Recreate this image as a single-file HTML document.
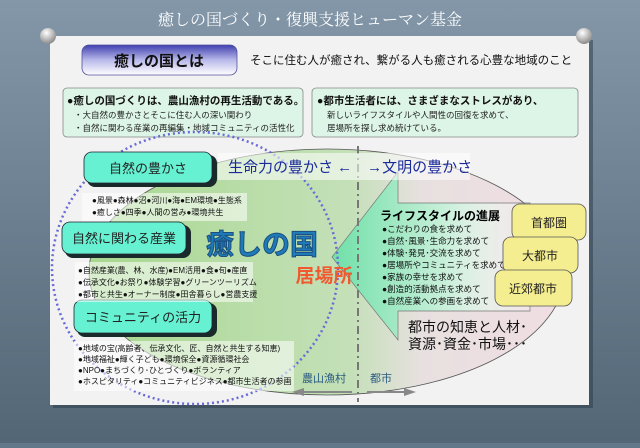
<!DOCTYPE html>
<html><head><meta charset="utf-8"><style>
body{margin:0;width:640px;height:443px;overflow:hidden;background:#62778a;font-family:"Liberation Sans","Noto Sans CJK JP",sans-serif;}
.t{font-family:"Liberation Sans","Noto Sans CJK JP",sans-serif;}
.s{font-family:"Liberation Serif","Noto Serif CJK SC",serif;}
</style></head><body>
<svg width="640" height="443" viewBox="0 0 640 443" xmlns="http://www.w3.org/2000/svg">
<defs>
<linearGradient id="bg" x1="0" y1="0" x2="0" y2="1"><stop offset="0" stop-color="#8397a9"/><stop offset="1" stop-color="#526676"/></linearGradient>
<linearGradient id="hdr" x1="0" y1="0" x2="0" y2="1"><stop offset="0" stop-color="#4040b0"/><stop offset="0.5" stop-color="#b8b8ea"/><stop offset="1" stop-color="#ffffff"/></linearGradient>
<linearGradient id="ell" x1="0" y1="0" x2="1" y2="0"><stop offset="0" stop-color="#a8d890"/><stop offset="0.55" stop-color="#c4e0b8"/><stop offset="0.7" stop-color="#e8e0e0"/><stop offset="1" stop-color="#f0dde2"/></linearGradient>
<linearGradient id="arr" x1="0" y1="0" x2="1" y2="0"><stop offset="0" stop-color="#6fe0a8"/><stop offset="0.6" stop-color="#cdf0dc"/><stop offset="1" stop-color="#ffffff" stop-opacity="0.2"/></linearGradient>
<radialGradient id="pin" cx="0.4" cy="0.3" r="0.7"><stop offset="0" stop-color="#ffffff"/><stop offset="1" stop-color="#8a8a8a"/></radialGradient>
</defs>
<g class="t">
<rect width="640" height="443" fill="url(#bg)"/>
<text class="s" x="462" y="25" font-size="16" fill="#fff" text-anchor="end">癒しの国づくり・復興支援ヒューマン基金</text>
<rect x="53" y="40" width="540" height="368" fill="#2a3845" opacity="0.5"/>
<rect x="50" y="36" width="539" height="369" fill="#f2f2f2"/>
<circle cx="48" cy="36" r="8" fill="url(#pin)"/><circle cx="584" cy="36" r="8" fill="url(#pin)"/>
<rect x="82" y="45" width="155" height="30" rx="7" fill="url(#hdr)" stroke="#5050a0" stroke-width="0.8"/>
<text x="159" y="66" font-size="15" font-weight="bold" text-anchor="middle" fill="#111">癒しの国とは</text>
<text x="250" y="64" font-size="11.5" fill="#111">そこに住む人が癒され、繋がる人も癒される心豊な地域のこと</text>
<rect x="63" y="88" width="240" height="49" rx="4" fill="#ddf5e6" stroke="#888" stroke-width="0.8"/>
<text x="67" y="104" font-size="10.5" fill="#111" font-weight="bold">●癒しの国づくりは、農山漁村の再生活動である。</text>
<text x="74" y="118" font-size="8.5" fill="#222">・大自然の豊かさとそこに住む人の深い関わり</text>
<text x="74" y="131" font-size="8.5" fill="#222">・自然に関わる産業の再編集・地域コミュニティの活性化</text>
<rect x="312" y="88" width="266" height="49" rx="4" fill="#ddf5e6" stroke="#888" stroke-width="0.8"/>
<text x="317" y="104" font-size="10.5" fill="#111" font-weight="bold">●都市生活者には、さまざまなストレスがあり、</text>
<text x="327" y="118" font-size="8.5" fill="#222">新しいライフスタイルや人間性の回復を求めて、</text>
<text x="327" y="131" font-size="8.5" fill="#222">居場所を探し求め続けている。</text>
<ellipse cx="327" cy="272" rx="238" ry="123" fill="url(#ell)" stroke="#555" stroke-width="0.8"/>
<polygon points="332,257 398,172 398,203 530,203 530,311 398,311 398,340" fill="url(#arr)" stroke="#777" stroke-width="0.7"/>
<line x1="358" y1="146" x2="358" y2="402" stroke="#777" stroke-width="2" stroke-dasharray="8,4,2,4"/>
<ellipse cx="195" cy="268" rx="143" ry="136" fill="none" stroke="#6a6ad8" stroke-width="2.5" stroke-dasharray="2,3"/>
<rect x="218" y="153" width="252" height="27" fill="#fff" opacity="0.55"/>
<text x="228" y="172" font-size="15" fill="#1a2a9a">生命力の豊かさ ←　→文明の豊かさ</text>
<rect x="87" y="155" width="130" height="32" rx="8" fill="#1a2a2a"/>
<rect x="84" y="152" width="128" height="31" rx="8" fill="#66f2d2" stroke="#223" stroke-width="0.8"/>
<text x="148" y="173" font-size="13" text-anchor="middle" fill="#222">自然の豊かさ</text>
<rect x="65" y="225" width="126" height="33" rx="8" fill="#1a2a2a"/>
<rect x="62" y="222" width="124" height="32" rx="8" fill="#66f2d2" stroke="#223" stroke-width="0.8"/>
<text x="124" y="243" font-size="13" text-anchor="middle" fill="#222">自然に関わる産業</text>
<rect x="77" y="303" width="140" height="34" rx="8" fill="#1a2a2a"/>
<rect x="74" y="300" width="138" height="33" rx="8" fill="#66f2d2" stroke="#223" stroke-width="0.8"/>
<text x="143" y="322" font-size="13" text-anchor="middle" fill="#222">コミュニティの活力</text>
<rect x="82" y="193" width="165" height="28" fill="#fff" opacity="0.55"/>
<text font-size="8" fill="#111"><tspan x="92" y="203">●風景●森林●沼●河川●海●EM環境●生態系</tspan><tspan x="92" y="215">●癒しさ●四季●人間の営み●環境共生</tspan></text>
<rect x="75" y="262" width="178" height="40" fill="#fff" opacity="0.55"/>
<text font-size="8" fill="#111"><tspan x="78" y="273">●自然産業(農、林、水産)●EM活用●食●旬●産直</tspan><tspan x="78" y="285">●伝承文化●お祭り●体験学習●グリーンツーリズム</tspan><tspan x="78" y="297">●都市と共生●オーナー制度●田舎暮らし●営農支援</tspan></text>
<rect x="74" y="341" width="220" height="50" fill="#fff" opacity="0.55"/>
<text font-size="8" fill="#111"><tspan x="78" y="351">●地域の宝(高齢者、伝承文化、匠、自然と共生する知恵)</tspan><tspan x="78" y="362">●地域福祉●輝く子ども●環境保全●資源循環社会</tspan><tspan x="78" y="373">●NPO●まちづくり･ひとづくり●ボランティア</tspan><tspan x="78" y="384">●ホスピタリティ●コミュニティビジネス●都市生活者の参画</tspan></text>
<text x="262" y="254" font-size="28" font-weight="bold" text-anchor="middle" fill="#1f7ab8" stroke="#1a4f80" stroke-width="1">癒しの国</text>
<text x="324" y="282" font-size="19" font-weight="bold" text-anchor="middle" fill="#f05a30">居場所</text>
<text x="380" y="220" font-size="12" font-weight="bold" fill="#000">ライフスタイルの進展</text>
<text font-size="8.5" fill="#111"><tspan x="382" y="232">●こだわりの食を求めて</tspan><tspan x="382" y="244">●自然･風景･生命力を求めて</tspan><tspan x="382" y="256">●体験･発見･交流を求めて</tspan><tspan x="382" y="268">●居場所やコミュニティを求めて</tspan><tspan x="382" y="280">●家族の幸せを求めて</tspan><tspan x="382" y="292">●創造的活動拠点を求めて</tspan><tspan x="382" y="304">●自然産業への参画を求めて</tspan></text>
<text font-size="14" fill="#111"><tspan x="408" y="332">都市の知恵と人材･</tspan><tspan x="408" y="349">資源･資金･市場･･･</tspan></text>
<rect x="512" y="204" width="74" height="36" rx="8" fill="#f5ee90" stroke="#555" stroke-width="0.8"/>
<text x="549" y="227" font-size="12" text-anchor="middle" fill="#222">首都圏</text>
<rect x="503" y="237" width="75" height="36" rx="8" fill="#f5ee90" stroke="#555" stroke-width="0.8"/>
<text x="540" y="260" font-size="12" text-anchor="middle" fill="#222">大都市</text>
<rect x="495" y="270" width="77" height="36" rx="8" fill="#f5ee90" stroke="#555" stroke-width="0.8"/>
<text x="533" y="293" font-size="12" text-anchor="middle" fill="#222">近郊都市</text>
<text x="324" y="382" font-size="11" text-anchor="middle" fill="#2a5a80">農山漁村</text>
<text x="381" y="382" font-size="11" text-anchor="middle" fill="#2a5a80">都市</text>
<line x1="300" y1="392" x2="352" y2="392" stroke="#888" stroke-width="2"/><polygon points="292,392 304,388 304,396" fill="#888"/>
<line x1="367" y1="392" x2="408" y2="392" stroke="#888" stroke-width="2"/><polygon points="416,392 404,388 404,396" fill="#888"/>
</g>
</svg>
</body></html>
